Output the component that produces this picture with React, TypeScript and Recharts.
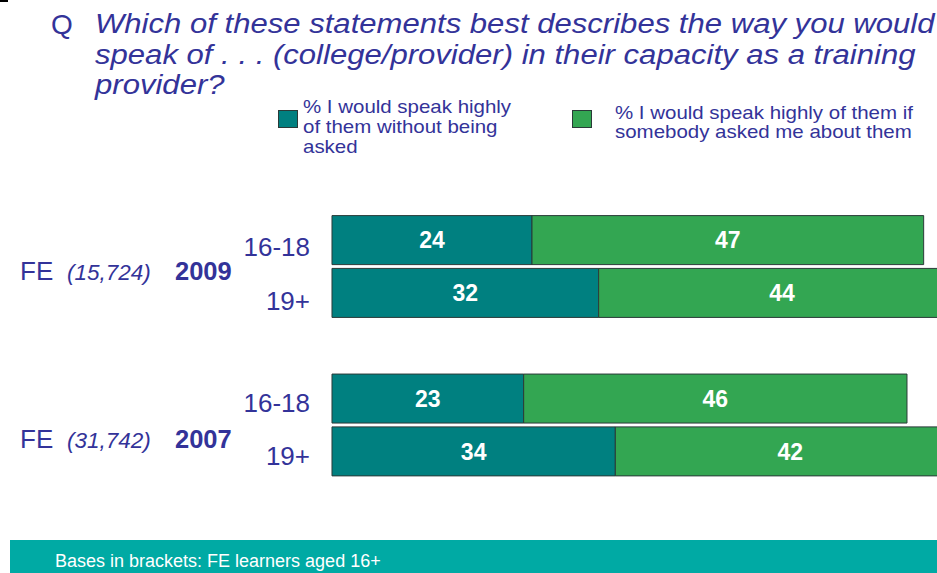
import React from 'react';
import { BarChart, Bar, XAxis, YAxis, LabelList } from 'recharts';

// ---- data ----
const rowKeys = ['2009 16-18', '2009 19+', 'gap', '2007 16-18', '2007 19+'];
const ageLabels = ['16-18', '19+', '', '16-18', '19+'];
const speakUnprompted = [24, 32, null, 23, 34];
const speakIfAsked = [47, 44, null, 46, 42];
const groupYears = ['2009', '2007'];
const groupBases = ['(15,724)', '(31,742)'];
const groupPrefix = 'FE';
const seriesNames = [
  ['% I would speak highly', 'of them without being', 'asked'],
  ['% I would speak highly of them if', 'somebody asked me about them'],
];
const titleQ = 'Q';
const titleLines = [
  'Which of these statements best describes the way you would',
  'speak of . . . (college/provider) in their capacity as a training',
  'provider?',
];
const footnote = 'Bases in brackets: FE learners aged 16+';
const valueDomain = [0, 80];

// ---- styles ----
const W = 937;
const H = 573;
// plot starts at x=332 with 8.333 px per percentage point; the chart runs past the
// right edge of the picture and is cropped there, as in the reference
const CHART_W = 332 + 80 * (25 / 3);
const FONT = '"Liberation Sans", Arial, sans-serif';
const BLUE = '#333399';
const TEAL = '#008080';
const GREEN = '#33a652';
const BAND = '#00aaa4';
const tickNudge = [6.5, 8, 0, 4.5, 4.5];
const groupBaselines = [280, 448];

const data = rowKeys.map((k, i) => ({
  row: k,
  unprompted: speakUnprompted[i],
  asked: speakIfAsked[i],
}));

const AgeTick = (props: any) => {
  const { x, y, payload } = props;
  const i = rowKeys.indexOf(payload.value);
  if (i < 0 || !ageLabels[i]) return null;
  return (
    <text
      x={x}
      y={y + tickNudge[i] + 9.3}
      textAnchor="end"
      fontSize={26}
      fontFamily={FONT}
      fill={BLUE}
    >
      {ageLabels[i]}
    </text>
  );
};

export default function App() {
  return (
    <div
      style={{
        position: 'absolute',
        left: 0,
        top: 0,
        width: W,
        height: H,
        background: '#fff',
        overflow: 'hidden',
        fontFamily: FONT,
      }}
    >
      <div style={{ position: 'absolute', left: 0, top: 0 }}>
        <BarChart
          width={CHART_W}
          height={H}
          data={data}
          layout="vertical"
          margin={{ top: 213.6, bottom: 95.3, left: 232, right: 0 }}
          barSize={49}
        >
          <XAxis type="number" domain={valueDomain} hide />
          <YAxis
            type="category"
            dataKey="row"
            width={100}
            axisLine={false}
            tickLine={false}
            tickSize={0}
            tickMargin={22}
            interval={0}
            tick={<AgeTick />}
          />
          <Bar
            dataKey="unprompted"
            stackId="s"
            fill={TEAL}
            stroke="#2a3a38"
            strokeWidth={1}
            isAnimationActive={false}
          >
            <LabelList
              dataKey="unprompted"
              position="center"
              fill="#ffffff"
              fontSize={23}
              fontWeight="bold"
              fontFamily={FONT}
            />
          </Bar>
          <Bar
            dataKey="asked"
            stackId="s"
            fill={GREEN}
            stroke="#2a3a38"
            strokeWidth={1}
            isAnimationActive={false}
          >
            <LabelList
              dataKey="asked"
              position="center"
              fill="#ffffff"
              fontSize={23}
              fontWeight="bold"
              fontFamily={FONT}
            />
          </Bar>
        </BarChart>
      </div>

      <svg
        width={W}
        height={H}
        style={{ position: 'absolute', left: 0, top: 0, pointerEvents: 'none' }}
        fontFamily={FONT}
      >
        <rect x={0} y={0} width={8} height={2} fill="#000" />
        {/* title */}
        <text x={51} y={33.5} fontSize={28} fill={BLUE}>
          {titleQ}
        </text>
        <g transform="translate(95,0) scale(1.11,1)">
          {titleLines.map((t, i) => (
            <text key={i} x={0} y={33.5 + i * 30.5} fontSize={28} fontStyle="italic" fill={BLUE}>
              {t}
            </text>
          ))}
        </g>

        {/* legend */}
        <rect x={278.5} y={110.5} width={19} height={17} fill={TEAL} stroke="#2a3a38" strokeWidth={1} />
        <g transform="translate(303,0) scale(1.1,1)">
          {seriesNames[0].map((t, i) => (
            <text key={i} x={0} y={113.3 + i * 20} fontSize={18.6} fill={BLUE}>
              {t}
            </text>
          ))}
        </g>
        <rect x={572.5} y={110.5} width={19} height={17} fill={GREEN} stroke="#2a3a38" strokeWidth={1} />
        <g transform="translate(615,0) scale(1.1,1)">
          {seriesNames[1].map((t, i) => (
            <text key={i} x={0} y={118.6 + i * 19} fontSize={18.6} fill={BLUE}>
              {t}
            </text>
          ))}
        </g>

        {/* group labels */}
        {groupYears.map((yr, i) => (
          <g key={yr}>
            <text x={20} y={groupBaselines[i]} fontSize={26} fill={BLUE}>
              {groupPrefix}
            </text>
            <text x={67} y={groupBaselines[i]} fontSize={22.5} fontStyle="italic" fill={BLUE}>
              {groupBases[i]}
            </text>
            <text x={175} y={groupBaselines[i]} fontSize={25.5} fontWeight="bold" fill={BLUE}>
              {yr}
            </text>
          </g>
        ))}

        {/* footer band */}
        <rect x={10} y={540} width={W - 10} height={H - 540} fill={BAND} />
        <text x={55} y={567.3} fontSize={18} fill="#ffffff">
          {footnote}
        </text>
      </svg>
    </div>
  );
}
